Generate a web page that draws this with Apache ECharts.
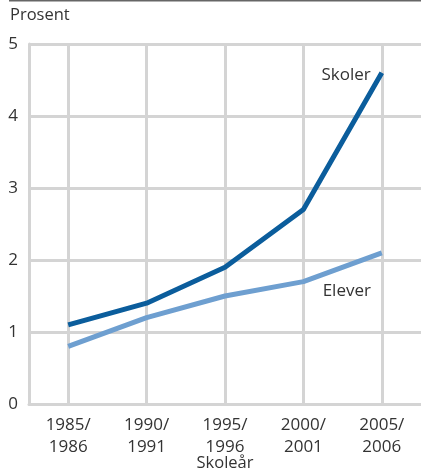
<!DOCTYPE html>
<html><head><meta charset="utf-8">
<script src="https://cdn.jsdelivr.net/npm/echarts@6/dist/echarts.min.js"></script>
<style>html,body{margin:0;padding:0;background:#fff}#c{width:421px;height:471px}</style>
</head><body><div id="c"></div>
<script>
const categories = ['1985/\n1986','1990/\n1991','1995/\n1996','2000/\n2001','2005/\n2006'];
const skoler = [1.1, 1.4, 1.9, 2.7, 4.6];
const elever = [0.8, 1.2, 1.5, 1.7, 2.1];
const yTicks = [0,1,2,3,4,5];
const font = '"Open Sans", "Noto Sans", sans-serif';
const chart = echarts.init(document.getElementById('c'));
const lastLabel = (name, arr, opts) => arr.map((v,i)=> i===arr.length-1 ? {value:v, label:Object.assign({show:true, formatter:name, color:'#333', fontSize:17, fontFamily:font}, opts)} : v);
chart.setOption({
  animation:false,
  graphic:[
    {type:'rect', shape:{x:9,y:0,width:412,height:1.5}, style:{fill:'#666'}},
    {type:'text', left:10, top:7, style:{text:'Prosent', fill:'#333', font:'16.5px '+font}}
  ],
  grid:{left:29, right:0, top:44, bottom:67, containLabel:false, outerBoundsMode:'none'},
  xAxis:{type:'category', data:categories, boundaryGap:true,
    name:'Skoleår', nameLocation:'middle', nameGap:59, nameMoveOverlap:false,
    nameTextStyle:{color:'#333', fontSize:16.5, fontFamily:font, verticalAlign:'middle'},
    axisLine:{show:true, lineStyle:{color:'#d4d4d4', width:3}},
    axisTick:{show:false},
    axisLabel:{color:'#333', fontSize:17, fontFamily:font, lineHeight:22, margin:10},
    splitLine:{show:true, alignWithLabel:true, lineStyle:{color:'#d4d4d4', width:3}}
  },
  yAxis:{type:'value', min:0, max:5, interval:1,
    axisLine:{show:true, lineStyle:{color:'#d4d4d4', width:3}},
    axisTick:{show:false},
    axisLabel:{color:'#333', fontSize:17, fontFamily:font, margin:11},
    splitLine:{show:true, lineStyle:{color:'#d4d4d4', width:3}}
  },
  series:[
    {name:'Skoler', type:'line', data:lastLabel('Skoler', skoler, {position:'left', offset:[-6,2]}), symbol:'circle', symbolSize:0, showSymbol:true,
     lineStyle:{color:'#0b5d9c', width:5}, itemStyle:{color:'#0b5d9c'}},
    {name:'Elever', type:'line', data:lastLabel('Elever', elever, {position:'bottom', offset:[-35,25]}), symbol:'circle', symbolSize:0, showSymbol:true,
     lineStyle:{color:'#6e9fd0', width:5}, itemStyle:{color:'#6e9fd0'}}
  ]
});
</script></body></html>
